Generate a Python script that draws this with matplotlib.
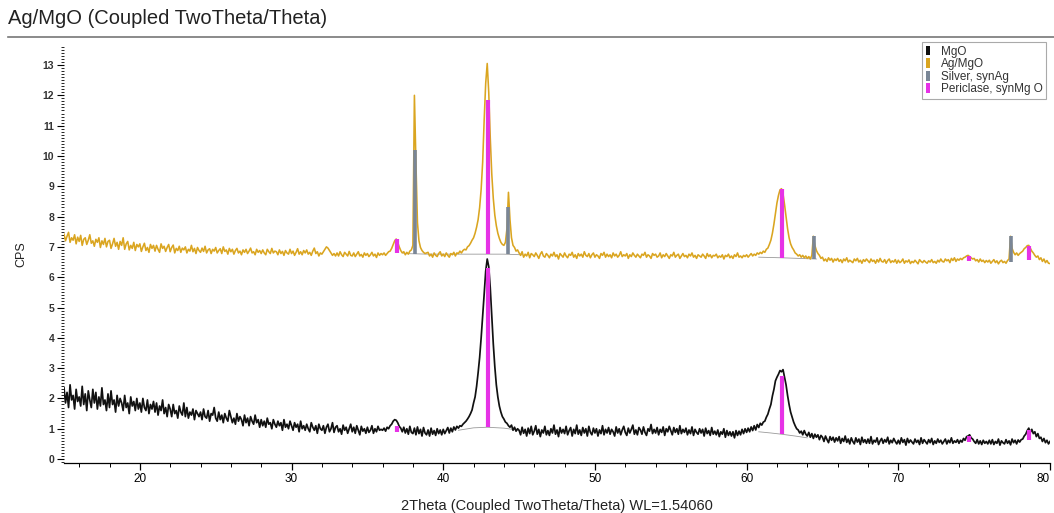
import numpy as np
import matplotlib
matplotlib.use("Agg")
import matplotlib.pyplot as plt
from matplotlib.patches import Patch
from matplotlib.lines import Line2D
from matplotlib.ticker import MultipleLocator

plt.rcParams['font.family'] = ['Liberation Sans', 'DejaVu Sans']

# ---------------- data ----------------
scan_start = 15.0
scan_step = 0.1

# MgO pattern (black), one row per degree, 15.0 ... 80.0
mgo_cps = [
    2.35, 1.85, 2.20, 1.70, 2.45, 1.95, 2.10, 1.65, 2.30, 1.90,  # 15
    2.05, 1.75, 2.40, 1.80, 2.15, 1.60, 2.25, 1.95, 1.70, 2.30,  # 16
    1.85, 2.20, 1.65, 2.05, 1.75, 2.35, 1.80, 1.95, 1.60, 2.15,  # 17
    1.70, 2.25, 1.80, 1.95, 1.55, 2.10, 1.75, 2.00, 1.85, 1.60,  # 18
    2.10, 1.70, 1.85, 1.50, 2.05, 1.75, 1.90, 1.60, 2.00, 1.65,  # 19
    1.85, 1.55, 2.00, 1.70, 1.60, 1.95, 1.50, 1.80, 1.65, 1.90,  # 20
    1.55, 1.85, 1.45, 1.75, 1.60, 1.95, 1.50, 1.70, 1.40, 1.80,  # 21
    1.65, 1.40, 1.80, 1.50, 1.60, 1.35, 1.75, 1.55, 1.45, 1.85,  # 22
    1.40, 1.70, 1.35, 1.55, 1.45, 1.65, 1.30, 1.60, 1.50, 1.40,  # 23
    1.55, 1.30, 1.65, 1.40, 1.35, 1.60, 1.25, 1.50, 1.45, 1.70,  # 24
    1.35, 1.25, 1.55, 1.30, 1.45, 1.20, 1.50, 1.35, 1.25, 1.60,  # 25
    1.40, 1.20, 1.35, 1.15, 1.50, 1.25, 1.40, 1.30, 1.10, 1.45,  # 26
    1.20, 1.35, 1.10, 1.40, 1.25, 1.15, 1.45, 1.20, 1.30, 1.05,  # 27
    1.30, 1.10, 1.25, 1.05, 1.35, 1.15, 1.20, 1.00, 1.30, 1.15,  # 28
    1.05, 1.25, 1.10, 1.20, 0.95, 1.30, 1.05, 1.15, 1.00, 1.25,  # 29
    1.10, 0.95, 1.20, 1.05, 1.15, 0.90, 1.25, 1.00, 1.10, 0.95,  # 30
    1.15, 1.00, 0.90, 1.20, 1.05, 0.95, 1.10, 0.85, 1.15, 1.00,  # 31
    0.95, 1.10, 0.85, 1.05, 1.15, 0.90, 1.00, 1.20, 0.88, 1.05,  # 32
    1.10, 0.90, 1.00, 0.82, 1.12, 0.95, 1.05, 0.85, 1.00, 1.15,  # 33
    0.90, 1.05, 0.85, 1.10, 0.95, 0.80, 1.08, 0.92, 1.00, 0.85,  # 34
    1.05, 0.88, 0.95, 1.10, 0.85, 1.00, 0.90, 1.08, 0.95, 0.98,  # 35
    0.95, 1.02, 0.92, 1.05, 1.00, 1.10, 1.15, 1.25, 1.30, 1.28,  # 36
    1.20, 1.08, 1.02, 0.90, 1.05, 0.86, 1.00, 0.82, 1.08, 0.88,  # 37
    0.84, 1.02, 0.80, 1.06, 0.84, 0.98, 0.76, 1.04, 0.86, 0.80,  # 38
    0.96, 0.76, 1.02, 0.82, 0.94, 0.78, 1.00, 0.84, 0.96, 0.80,  # 39
    0.98, 0.84, 0.94, 1.04, 0.86, 1.02, 0.90, 1.06, 0.96, 1.08,  # 40
    1.02, 1.10, 1.08, 1.15, 1.20, 1.25, 1.32, 1.40, 1.50, 1.62,  # 41
    1.85, 2.05, 2.40, 2.85, 3.35, 4.00, 4.70, 5.45, 6.20, 6.60,  # 42
    6.35, 5.65, 4.70, 3.80, 3.05, 2.45, 2.05, 1.75, 1.55, 1.40,  # 43
    1.32, 1.22, 1.18, 1.10, 1.05, 1.12, 0.95, 1.05, 0.92, 1.00,  # 44
    0.95, 0.80, 1.05, 0.85, 0.98, 0.76, 1.02, 0.84, 1.08, 0.80,  # 45
    0.92, 1.10, 0.82, 0.98, 0.74, 0.96, 0.86, 1.08, 0.80, 0.94,  # 46
    0.78, 1.00, 0.86, 1.12, 0.82, 0.96, 0.74, 1.04, 0.86, 0.98,  # 47
    0.84, 1.08, 0.80, 0.94, 1.04, 0.76, 0.98, 0.84, 1.12, 0.82,  # 48
    0.96, 0.78, 1.04, 0.86, 1.00, 0.76, 1.08, 0.88, 0.80, 1.02,  # 49
    0.86, 1.00, 0.76, 0.96, 0.84, 1.10, 0.80, 0.98, 0.86, 1.04,  # 50
    0.82, 0.98, 0.90, 0.76, 1.06, 0.86, 1.00, 0.80, 0.96, 1.08,  # 51
    0.88, 0.78, 1.02, 0.86, 0.98, 1.12, 0.82, 0.96, 0.80, 1.04,  # 52
    0.96, 0.82, 1.06, 0.88, 0.78, 1.00, 0.92, 1.14, 0.84, 0.98,  # 53
    0.86, 1.04, 0.80, 0.98, 0.88, 1.06, 0.78, 1.00, 0.90, 1.08,  # 54
    0.94, 0.80, 1.04, 0.88, 1.00, 0.82, 1.10, 0.84, 0.98, 0.88,  # 55
    1.02, 0.80, 0.96, 0.84, 1.06, 0.78, 0.98, 0.88, 0.82, 1.00,  # 56
    0.86, 0.98, 0.76, 1.02, 0.84, 0.94, 0.78, 1.04, 0.82, 0.92,  # 57
    0.80, 0.96, 0.74, 0.90, 0.82, 1.00, 0.72, 0.94, 0.78, 0.90,  # 58
    0.76, 0.90, 0.70, 0.94, 0.78, 0.92, 0.80, 0.98, 0.84, 1.00,  # 59
    0.88, 1.02, 0.90, 1.06, 0.94, 1.10, 0.96, 1.14, 1.04, 1.18,  # 60
    1.12, 1.22, 1.25, 1.38, 1.48, 1.65, 1.80, 2.08, 2.30, 2.58,  # 61
    2.70, 2.80, 2.92, 2.88, 2.95, 2.70, 2.45, 2.10, 1.80, 1.55,  # 62
    1.38, 1.22, 1.10, 1.00, 0.96, 0.86, 0.92, 0.80, 0.94, 0.82,  # 63
    0.76, 0.88, 0.72, 0.84, 0.68, 0.82, 0.72, 0.80, 0.64, 0.78,  # 64
    0.72, 0.58, 0.76, 0.64, 0.54, 0.74, 0.62, 0.72, 0.56, 0.70,  # 65
    0.60, 0.74, 0.52, 0.68, 0.58, 0.76, 0.55, 0.66, 0.50, 0.70,  # 66
    0.58, 0.50, 0.70, 0.56, 0.66, 0.48, 0.72, 0.55, 0.64, 0.52,  # 67
    0.66, 0.52, 0.74, 0.50, 0.62, 0.56, 0.70, 0.48, 0.60, 0.68,  # 68
    0.52, 0.64, 0.56, 0.72, 0.50, 0.62, 0.54, 0.68, 0.58, 0.50,  # 69
    0.62, 0.50, 0.70, 0.55, 0.64, 0.46, 0.68, 0.54, 0.63, 0.56,  # 70
    0.50, 0.66, 0.55, 0.62, 0.48, 0.70, 0.52, 0.64, 0.57, 0.50,  # 71
    0.64, 0.54, 0.68, 0.48, 0.60, 0.52, 0.66, 0.55, 0.62, 0.50,  # 72
    0.58, 0.66, 0.50, 0.62, 0.54, 0.70, 0.52, 0.60, 0.55, 0.64,  # 73
    0.52, 0.62, 0.56, 0.68, 0.62, 0.74, 0.76, 0.80, 0.70, 0.66,  # 74
    0.58, 0.52, 0.64, 0.50, 0.60, 0.48, 0.62, 0.52, 0.58, 0.50,  # 75
    0.62, 0.50, 0.64, 0.48, 0.58, 0.52, 0.66, 0.46, 0.60, 0.54,  # 76
    0.50, 0.64, 0.52, 0.60, 0.47, 0.66, 0.54, 0.62, 0.50, 0.63,  # 77
    0.56, 0.64, 0.66, 0.76, 0.82, 0.94, 1.02, 0.88, 0.98, 0.84,  # 78
    0.90, 0.74, 0.84, 0.68, 0.72, 0.58, 0.68, 0.54, 0.62, 0.50,  # 79
    0.58,                                                        # 80
]

# Ag/MgO pattern (goldenrod), one row per degree, 15.0 ... 80.0
agmgo_cps = [
    7.42, 7.20, 7.35, 7.48, 7.15, 7.30, 7.22, 7.40, 7.10, 7.32,  # 15
    7.18, 7.38, 7.05, 7.25, 7.30, 7.08, 7.22, 7.40, 7.12, 7.20,  # 16
    7.02, 7.25, 7.15, 7.30, 6.98, 7.20, 7.08, 7.28, 7.00, 7.18,  # 17
    7.22, 6.95, 7.10, 7.28, 7.02, 7.15, 6.92, 7.18, 7.05, 7.30,  # 18
    6.92, 7.10, 7.18, 6.90, 7.05, 6.95, 7.15, 6.88, 7.08, 7.00,  # 19
    7.10, 6.85, 7.00, 7.12, 6.88, 6.98, 6.82, 7.08, 6.95, 7.05,  # 20
    6.86, 7.05, 6.92, 6.82, 7.10, 6.95, 7.02, 6.85, 6.98, 7.08,  # 21
    6.84, 6.98, 7.06, 6.80, 6.95, 6.88, 7.02, 6.82, 6.96, 6.90,  # 22
    7.00, 6.80, 6.92, 6.86, 7.05, 6.84, 6.95, 6.78, 6.98, 6.88,  # 23
    6.82, 6.96, 6.85, 7.02, 6.80, 6.90, 6.94, 6.78, 6.92, 6.86,  # 24
    6.98, 6.80, 6.88, 6.94, 6.78, 7.00, 6.85, 6.90, 6.76, 6.95,  # 25
    6.84, 6.92, 6.76, 6.88, 6.95, 6.80, 6.86, 6.74, 6.90, 6.82,  # 26
    6.92, 6.78, 6.86, 6.96, 6.80, 6.84, 6.74, 6.92, 6.82, 6.88,  # 27
    6.78, 6.90, 6.80, 6.74, 6.92, 6.84, 6.78, 6.95, 6.80, 6.86,  # 28
    6.84, 6.74, 6.90, 6.78, 6.85, 6.72, 6.88, 6.80, 6.76, 6.92,  # 29
    6.78, 6.86, 6.72, 6.82, 6.94, 6.76, 6.84, 6.74, 6.88, 6.80,  # 30
    6.90, 6.76, 6.82, 6.72, 6.86, 6.96, 6.78, 6.84, 6.70, 6.80,  # 31
    6.76, 6.84, 6.92, 7.00, 6.96, 6.88, 6.80, 6.72, 6.78, 6.70,  # 32
    6.80, 6.70, 6.84, 6.74, 6.68, 6.82, 6.76, 6.70, 6.85, 6.72,  # 33
    6.70, 6.80, 6.68, 6.76, 6.84, 6.70, 6.75, 6.66, 6.80, 6.72,  # 34
    6.78, 6.68, 6.74, 6.82, 6.70, 6.76, 6.65, 6.80, 6.72, 6.78,  # 35
    6.74, 6.80, 6.72, 6.78, 6.84, 6.86, 6.95, 7.08, 7.20, 7.26,  # 36
    7.15, 7.00, 6.88, 6.80, 6.84, 6.74, 6.82, 6.76, 6.86, 6.90,  # 37
    7.05, 12.00, 9.80, 7.80, 7.20, 6.98, 6.88, 6.82, 6.78, 6.80,  # 38
    6.82, 6.70, 6.76, 6.66, 6.80, 6.72, 6.68, 6.78, 6.84, 6.70,  # 39
    6.76, 6.68, 6.80, 6.72, 6.66, 6.78, 6.74, 6.82, 6.70, 6.80,  # 40
    6.78, 6.86, 6.80, 6.88, 6.92, 6.90, 7.00, 7.04, 7.12, 7.22,  # 41
    7.30, 7.45, 7.65, 7.90, 8.30, 8.90, 9.80, 11.20, 12.40, 13.05,  # 42
    12.10, 10.60, 9.40, 8.60, 8.05, 7.70, 7.45, 7.28, 7.15, 7.08,  # 43
    7.05, 7.15, 7.60, 8.80, 7.90, 7.30, 7.05, 6.98, 6.86, 6.90,  # 44
    6.80, 6.72, 6.84, 6.66, 6.76, 6.70, 6.82, 6.64, 6.78, 6.74,  # 45
    6.68, 6.80, 6.72, 6.62, 6.76, 6.84, 6.70, 6.66, 6.78, 6.72,  # 46
    6.64, 6.76, 6.70, 6.82, 6.68, 6.74, 6.60, 6.78, 6.72, 6.66,  # 47
    6.80, 6.70, 6.64, 6.76, 6.72, 6.82, 6.66, 6.74, 6.62, 6.78,  # 48
    6.70, 6.76, 6.66, 6.84, 6.72, 6.68, 6.78, 6.64, 6.74, 6.80,  # 49
    6.66, 6.74, 6.70, 6.62, 6.78, 6.72, 6.82, 6.66, 6.76, 6.68,  # 50
    6.74, 6.64, 6.80, 6.70, 6.76, 6.66, 6.72, 6.84, 6.68, 6.74,  # 51
    6.70, 6.78, 6.62, 6.74, 6.68, 6.80, 6.72, 6.66, 6.76, 6.70,  # 52
    6.64, 6.76, 6.72, 6.82, 6.66, 6.74, 6.70, 6.62, 6.78, 6.72,  # 53
    6.76, 6.66, 6.70, 6.80, 6.64, 6.74, 6.68, 6.78, 6.70, 6.62,  # 54
    6.74, 6.70, 6.82, 6.66, 6.72, 6.76, 6.62, 6.70, 6.78, 6.68,  # 55
    6.72, 6.64, 6.76, 6.70, 6.80, 6.66, 6.72, 6.62, 6.74, 6.70,  # 56
    6.66, 6.76, 6.70, 6.62, 6.78, 6.68, 6.74, 6.64, 6.72, 6.70,  # 57
    6.76, 6.64, 6.70, 6.66, 6.74, 6.60, 6.72, 6.68, 6.76, 6.64,  # 58
    6.70, 6.62, 6.74, 6.68, 6.80, 6.66, 6.70, 6.64, 6.72, 6.68,  # 59
    6.74, 6.66, 6.72, 6.78, 6.70, 6.76, 6.72, 6.80, 6.76, 6.82,  # 60
    6.78, 6.86, 6.82, 6.92, 6.96, 7.08, 7.22, 7.45, 7.75, 8.10,  # 61
    8.45, 8.70, 8.88, 8.92, 8.75, 8.40, 8.00, 7.60, 7.30, 7.10,  # 62
    6.98, 6.90, 6.80, 6.76, 6.70, 6.74, 6.66, 6.72, 6.64, 6.70,  # 63
    6.62, 6.68, 6.60, 6.72, 7.35, 7.05, 6.88, 6.78, 6.72, 6.62,  # 64
    6.66, 6.54, 6.60, 6.52, 6.64, 6.56, 6.62, 6.50, 6.60, 6.55,  # 65
    6.62, 6.52, 6.58, 6.48, 6.60, 6.54, 6.64, 6.50, 6.56, 6.52,  # 66
    6.48, 6.60, 6.54, 6.62, 6.50, 6.56, 6.46, 6.58, 6.52, 6.60,  # 67
    6.54, 6.48, 6.60, 6.52, 6.56, 6.46, 6.58, 6.50, 6.62, 6.52,  # 68
    6.50, 6.58, 6.46, 6.55, 6.60, 6.48, 6.54, 6.50, 6.58, 6.46,  # 69
    6.56, 6.48, 6.52, 6.60, 6.46, 6.54, 6.50, 6.57, 6.45, 6.52,  # 70
    6.48, 6.56, 6.50, 6.44, 6.58, 6.52, 6.48, 6.55, 6.50, 6.46,  # 71
    6.54, 6.50, 6.58, 6.48, 6.52, 6.46, 6.56, 6.50, 6.60, 6.52,  # 72
    6.50, 6.60, 6.54, 6.58, 6.48, 6.62, 6.55, 6.64, 6.52, 6.60,  # 73
    6.56, 6.62, 6.58, 6.64, 6.66, 6.70, 6.72, 6.68, 6.64, 6.60,  # 74
    6.62, 6.54, 6.58, 6.50, 6.60, 6.52, 6.56, 6.48, 6.55, 6.50,  # 75
    6.56, 6.46, 6.52, 6.58, 6.48, 6.54, 6.44, 6.52, 6.56, 6.48,  # 76
    6.52, 6.46, 6.55, 6.60, 7.35, 6.95, 6.82, 6.74, 6.80, 6.72,  # 77
    6.78, 6.82, 6.86, 6.94, 6.98, 7.04, 7.05, 6.96, 6.86, 6.80,  # 78
    6.72, 6.66, 6.70, 6.58, 6.64, 6.52, 6.60, 6.48, 6.55, 6.46,  # 79
    6.45,                                                        # 80
]

# reference stick patterns
periclase_pos = [36.94, 42.92, 62.30, 74.69, 78.63]
periclase_mgo_bottom = [0.88, 1.05, 0.82, 0.55, 0.62]
periclase_mgo_top = [1.08, 6.30, 2.75, 0.75, 0.95]
periclase_ag_bottom = [6.80, 6.76, 6.64, 6.52, 6.56]
periclase_ag_top = [7.25, 11.85, 8.90, 6.70, 7.02]

silver_pos = [38.12, 44.30, 64.44, 77.40]
silver_ag_bottom = [6.77, 6.76, 6.60, 6.50]
silver_ag_top = [10.20, 8.30, 7.35, 7.35]

# fitted backgrounds under the main peaks
bg_mgo_a_x = [41.0, 42.0, 42.9, 44.0, 45.0]
bg_mgo_a_y = [0.95, 1.03, 1.05, 1.02, 0.95]
bg_mgo_b_x = [60.8, 61.6, 62.3, 63.2, 64.0]
bg_mgo_b_y = [0.90, 0.86, 0.82, 0.76, 0.70]
bg_ag_a_x = [37.4, 39.0, 41.0, 42.9, 44.0, 45.2]
bg_ag_a_y = [6.78, 6.76, 6.76, 6.76, 6.76, 6.74]
bg_ag_b_x = [60.8, 62.3, 64.6]
bg_ag_b_y = [6.66, 6.64, 6.60]

legend_labels = ["MgO", "Ag/MgO", "Silver, synAg", "Periclase, synMg O"]

# ---------------- drawing ----------------
BLACK = "#111111"
GOLD = "#DAA520"
SILVER = "#7A8696"
MAGENTA = "#E632E6"

two_theta_mgo = scan_start + scan_step * np.arange(len(mgo_cps))
two_theta_ag = scan_start + scan_step * np.arange(len(agmgo_cps))

fig = plt.figure(figsize=(10.54, 5.13), dpi=100)
ax = fig.add_axes([64 / 1054, 1 - 463 / 513, (1050 - 64) / 1054, (463 - 45) / 513])

ax.plot(two_theta_mgo, mgo_cps, color=BLACK, lw=1.25, zorder=3)
ax.plot(two_theta_ag, agmgo_cps, color=GOLD, lw=1.15, zorder=3)

for bx, by in [(bg_mgo_a_x, bg_mgo_a_y), (bg_mgo_b_x, bg_mgo_b_y),
               (bg_ag_a_x, bg_ag_a_y), (bg_ag_b_x, bg_ag_b_y)]:
    ax.plot(bx, by, color="#9a9a9a", lw=0.6, zorder=2)

ax.vlines(silver_pos, silver_ag_bottom, silver_ag_top, color=SILVER, lw=2.6, zorder=4)
ax.vlines(periclase_pos, periclase_ag_bottom, periclase_ag_top, color=MAGENTA, lw=3.0, zorder=4)
ax.vlines(periclase_pos, periclase_mgo_bottom, periclase_mgo_top, color=MAGENTA, lw=3.0, zorder=4)

ax.set_xlim(15, 80)
ax.set_ylim(-0.13, 13.66)

ax.spines['top'].set_visible(False)
ax.spines['right'].set_visible(False)
ax.spines['left'].set_visible(False)
ax.spines['bottom'].set_linewidth(0.9)

ax.xaxis.set_major_locator(MultipleLocator(10))
ax.xaxis.set_minor_locator(MultipleLocator(2))
ax.yaxis.set_major_locator(MultipleLocator(1))
ax.yaxis.set_minor_locator(MultipleLocator(0.1))

ax.tick_params(axis='x', which='major', direction='out', length=5, width=0.9, pad=2)
ax.tick_params(axis='x', which='minor', direction='out', length=3, width=0.7)
ax.tick_params(axis='y', which='major', direction='out', length=5, width=0.8, pad=2)
ax.tick_params(axis='y', which='minor', direction='out', length=2, width=0.6)

narrow = ['Liberation Sans Narrow', 'Liberation Sans', 'DejaVu Sans']
fig.canvas.draw()
for lab in ax.get_xticklabels():
    lab.set_fontfamily(narrow)
    lab.set_fontsize(8.5)
    if lab.get_text() == '80':
        lab.set_horizontalalignment('right')
for lab in ax.get_yticklabels():
    lab.set_fontsize(7.5)
    lab.set_fontweight('bold')
    lab.set_color('#333333')

ax.set_xlabel("2Theta (Coupled TwoTheta/Theta) WL=1.54060", fontsize=10.5,
              family=narrow, labelpad=10, color='#222222')
ax.set_ylabel("CPS", fontsize=9, labelpad=11, color='#222222')

fig.text(8 / 1054, 1 - 19 / 513, "Ag/MgO (Coupled TwoTheta/Theta)", fontsize=14.5,
         ha='left', va='center', color='#222222')
fig.add_artist(Line2D([8 / 1054, 1.0], [1 - 37 / 513, 1 - 37 / 513],
                      transform=fig.transFigure, color='#777777', lw=1.2))

handles = [Patch(facecolor=BLACK, edgecolor='none'),
           Patch(facecolor=GOLD, edgecolor='none'),
           Patch(facecolor=SILVER, edgecolor='none'),
           Patch(facecolor=MAGENTA, edgecolor='none')]
leg = ax.legend(handles, legend_labels, loc='upper right',
                bbox_to_anchor=(1046 / 1054, 1 - 42 / 513), bbox_transform=fig.transFigure,
                fontsize=8.5, handlelength=0.35, handleheight=0.9, handletextpad=0.9,
                labelspacing=0.05, borderpad=0.3, fancybox=False, framealpha=1,
                edgecolor='#aaaaaa', borderaxespad=0)
leg.get_frame().set_linewidth(0.8)
for t in leg.get_texts():
    t.set_color('#333333')

fig.savefig("out.png", dpi=100)
